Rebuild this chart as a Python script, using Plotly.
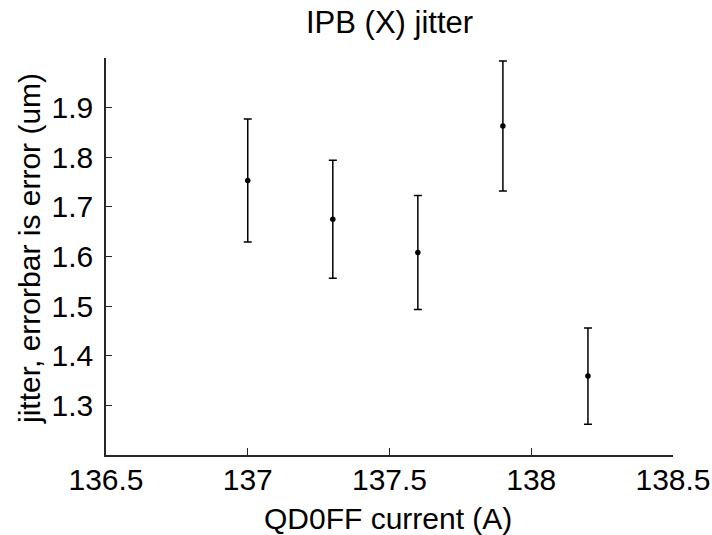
import plotly.graph_objects as go

# Data
current = [137.0, 137.3, 137.6, 137.9, 138.2]
jitter = [1.753, 1.675, 1.608, 1.863, 1.359]
jitter_err = [0.124, 0.119, 0.115, 0.131, 0.097]

x_ticks = [136.5, 137, 137.5, 138, 138.5]
x_tick_text = ["136.5", "137", "137.5", "138", "138.5"]
y_ticks = [1.3, 1.4, 1.5, 1.6, 1.7, 1.8, 1.9]
y_tick_text = ["1.3", "1.4", "1.5", "1.6", "1.7", "1.8", "1.9"]

FONT = "Liberation Sans, Arial, sans-serif"
AX = "#262626"
FS = 30

L, R, T, B = 106, 673, 58, 455
W, H = 712, 535
PW, PH = R - L, B - T

fig = go.Figure()
fig.add_trace(go.Scatter(
    x=current, y=jitter, mode="markers",
    marker=dict(color="black", size=5.5, symbol="circle"),
    error_y=dict(type="data", array=jitter_err, visible=True,
                 color="black", thickness=1.5, width=4),
    showlegend=False,
))

fig.update_layout(
    width=W, height=H,
    margin=dict(l=L, r=W - R, t=T, b=H - B, autoexpand=False),
    paper_bgcolor="white", plot_bgcolor="white",
    font=dict(family=FONT, size=FS, color="black"),
    xaxis=dict(range=[136.5, 138.5], tickvals=x_ticks, ticktext=x_tick_text,
               ticks="inside", ticklen=7, tickwidth=1.3, tickcolor=AX,
               showline=True, linecolor=AX, linewidth=1.5, showgrid=False,
               zeroline=False, ticklabelstandoff=-3, automargin=False,
               tickfont=dict(family=FONT, size=FS, color="black")),
    yaxis=dict(range=[1.2, 2.0], tickvals=y_ticks, ticktext=y_tick_text,
               ticks="inside", ticklen=6, tickwidth=1.3, tickcolor=AX,
               showline=True, linecolor=AX, linewidth=1.5, showgrid=False,
               zeroline=False, ticklabelstandoff=5, automargin=False,
               tickfont=dict(family=FONT, size=FS, color="black")),
    annotations=[
        dict(text="IPB (X) jitter", xref="paper", yref="paper",
             x=0.5, y=(B - 23) / PH, xanchor="center", yanchor="middle",
             showarrow=False, font=dict(family=FONT, size=31, color="black")),
        dict(text="QD0FF current (A)", xref="paper", yref="paper",
             x=(388 - L) / PW, y=(B - 518) / PH, xanchor="center", yanchor="middle",
             showarrow=False, font=dict(family=FONT, size=FS, color="black")),
        dict(text="jitter, errorbar is error (um)", xref="paper", yref="paper",
             x=(30 - L) / PW, y=(B - 249) / PH, xanchor="center", yanchor="middle",
             textangle=-90, showarrow=False,
             font=dict(family=FONT, size=FS, color="black")),
    ],
)

fig.write_html("out.html",
               config={"displayModeBar": False},
               post_script="document.body.style.margin='0px';"
                           "document.body.style.overflow='hidden';")
